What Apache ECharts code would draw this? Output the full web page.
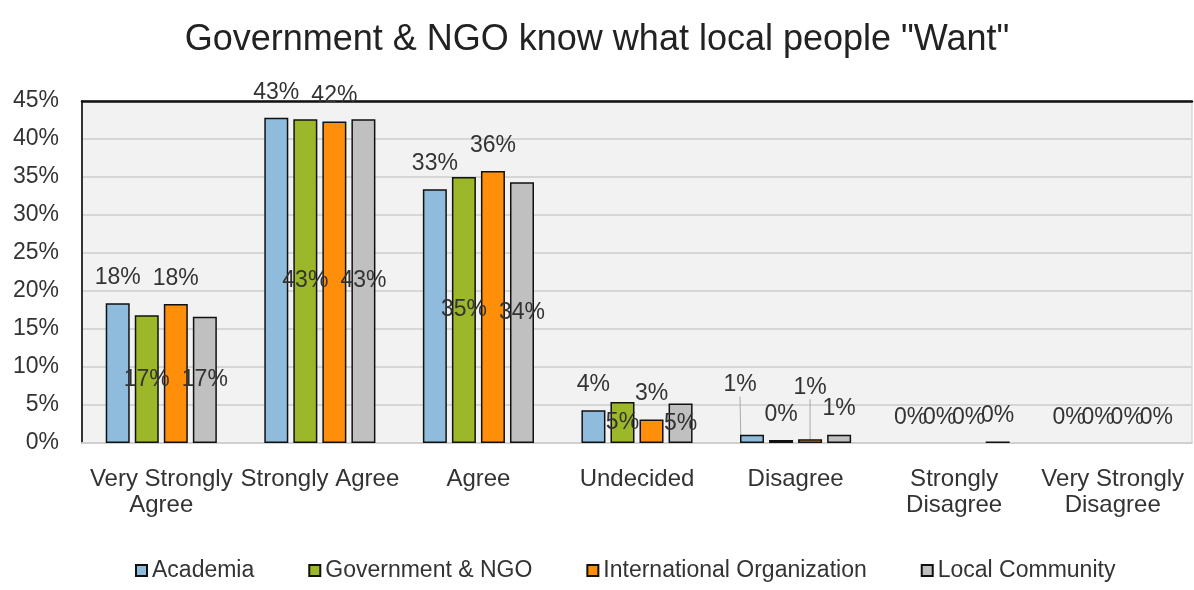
<!DOCTYPE html>
<html>
<head>
<meta charset="utf-8">
<script src="https://cdn.jsdelivr.net/npm/echarts@6/dist/echarts.min.js"></script>
<style>
  html, body { margin: 0; padding: 0; background: #fff; }
  #chart { width: 1194px; height: 590px; }
</style>
</head>
<body>
<div id="chart"></div>
<script>
var categories = ['Very Strongly\nAgree', 'Strongly Agree', 'Agree', 'Undecided', 'Disagree', 'Strongly\nDisagree', 'Very Strongly\nDisagree'];
var academia = [18.4, 42.8, 33.4, 4.3, 1.1, 0, 0];
var government = [16.8, 42.6, 35.0, 5.4, 0.4, 0, 0];
var international = [18.3, 42.3, 35.8, 3.1, 0.5, 0, 0];
var local = [16.6, 42.6, 34.3, 5.2, 1.1, 0.2, 0];
var yTicks = [0, 5, 10, 15, 20, 25, 30, 35, 40, 45];

var chart = echarts.init(document.getElementById('chart'));

function pct(p) {
    return Math.round(p.value) + '%';
}

// turn values into data items; inside=true puts the label in the bar (gov & local)
// leader = index of the label that is pulled up with a guide line
function buildData(values, inside, leader) {
    var out = [];
    for (var i = 0; i < values.length; i++) {
        var item = {value: values[i]};
        if (inside && values[i] >= 3) {
            item.label = {position: 'inside'};
        }
        if (values[i] === 0) {
            item.itemStyle = {borderWidth: 0};
        }
        if (i === leader) {
            item.labelLine = {show: true, lineStyle: {color: '#aaa', width: 1}};
        }
        out.push(item);
    }
    return out;
}

function makeSeries(name, color, data, opts) {
    var s = {
        name: name,
        type: 'bar',
        data: data,
        barWidth: 24,
        barGap: '21%',
        itemStyle: {color: color, borderColor: '#111', borderWidth: 1.5},
        label: {
            show: true,
            position: 'top',
            distance: 14,
            formatter: pct,
            fontFamily: 'Liberation Sans',
            fontSize: 23,
            color: '#333'
        },
        labelLine: {show: false}
    };
    if (opts) Object.assign(s, opts);
    return s;
}

var option = {
    backgroundColor: '#fff',
    animation: false,
    title: {
        text: 'Government & NGO know what local people "Want"',
        left: 'center',
        top: 17,
        textStyle: {fontFamily: 'Liberation Sans', fontSize: 36, fontWeight: 'normal', color: '#222'}
    },
    legend: {
        bottom: 3,
        left: 130,
        itemWidth: 11,
        itemHeight: 11,
        itemGap: 54,
        icon: 'rect',
        textStyle: {fontFamily: 'Liberation Sans', fontSize: 23, color: '#333'},
        data: ['Academia', 'Government & NGO', 'International Organization', 'Local Community']
    },
    grid: {
        left: 82,
        right: 2,
        top: 101,
        bottom: 147,
        show: true,
        backgroundColor: '#f2f2f2',
        borderColor: '#c8c8c8',
        borderWidth: 1
    },
    xAxis: [{
        type: 'category',
        data: categories,
        axisTick: {show: false},
        axisLine: {lineStyle: {color: '#d0d0d0', width: 2}},
        axisLabel: {
            fontFamily: 'Liberation Sans',
            fontSize: 24,
            lineHeight: 26,
            color: '#333',
            margin: 23,
            interval: 0
        }
    }, {
        type: 'category',
        position: 'top',
        data: categories,
        axisTick: {show: false},
        axisLabel: {show: false},
        axisLine: {show: true, lineStyle: {color: '#111', width: 2.5}}
    }],
    yAxis: {
        type: 'value',
        min: 0,
        max: 45,
        interval: 5,
        axisLine: {show: true, lineStyle: {color: '#333', width: 2}},
        axisTick: {show: false},
        splitLine: {lineStyle: {color: '#d6d6d6', width: 2}},
        axisLabel: {
            fontFamily: 'Liberation Sans',
            fontSize: 23,
            color: '#333',
            margin: 23,
            formatter: function (v) {
                return yTicks.indexOf(v) >= 0 ? v + '%' : '';
            }
        }
    },
    series: [
        makeSeries('Academia', '#8fbcdc', buildData(academia, false, 4), {
            labelLayout: function (p) {
                if (p.dataIndex === 4) return {dx: -12, dy: -24};
            }
        }),
        makeSeries('Government & NGO', '#9cb82a', buildData(government, true, -1)),
        makeSeries('International Organization', '#ff8e0a', buildData(international, false, 4), {
            labelLayout: function (p) {
                if (p.dataIndex === 4) return {dy: -26};
            }
        }),
        makeSeries('Local Community', '#c0c0c0', buildData(local, true, -1))
    ]
};

chart.setOption(option);
</script>
</body>
</html>
